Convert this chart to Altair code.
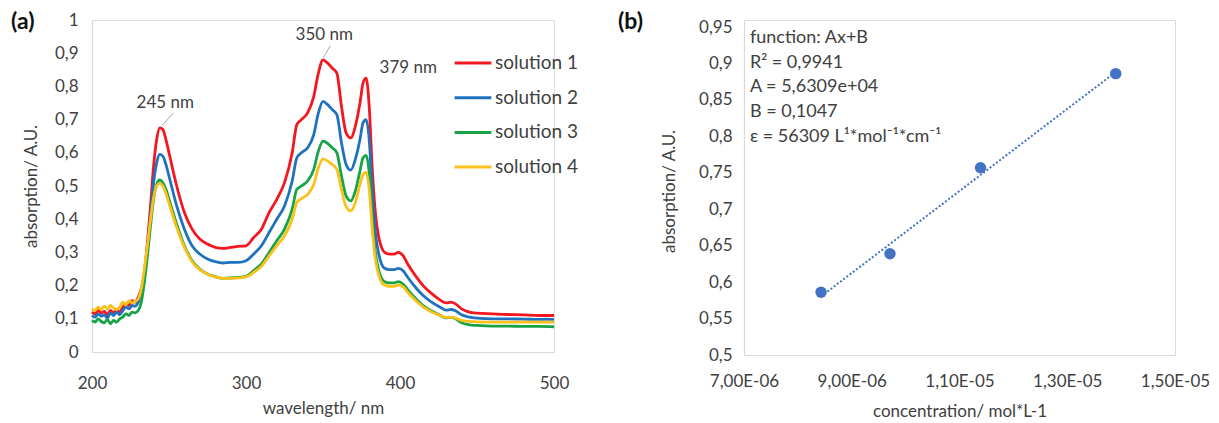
import altair as alt
import pandas as pd

FONT = "Lato"
TXT = "#404040"

# ---------------- panel (a): UV-Vis spectra ----------------
wavelength = [200, 202, 204, 206, 208, 210, 212, 214, 216, 218, 220, 222, 224, 226, 228, 230,
              232, 234, 236, 238, 240, 242, 244, 246, 248, 250, 255, 260, 265, 270, 275, 280,
              285, 290, 295, 300, 305, 310, 315, 320, 325, 330, 333, 336, 340, 344, 347, 350,
              353, 356, 359, 362, 365, 368, 371, 374, 376, 378, 380, 382, 384, 386, 388, 390,
              393, 396, 399, 402, 405, 410, 415, 420, 425, 430, 433, 436, 440, 445, 450, 460,
              470, 480, 490, 500]

solution1 = [0.120, 0.115, 0.125, 0.118, 0.122, 0.112, 0.125, 0.118, 0.128, 0.120, 0.135, 0.145, 0.140, 0.155, 0.150, 0.165,
             0.190, 0.240, 0.330, 0.440, 0.560, 0.640, 0.675, 0.670, 0.640, 0.600, 0.500, 0.420, 0.370, 0.340, 0.325, 0.315,
             0.312, 0.315, 0.318, 0.320, 0.345, 0.370, 0.420, 0.460, 0.510, 0.600, 0.685, 0.700, 0.720, 0.770, 0.840, 0.880,
             0.870, 0.855, 0.840, 0.740, 0.660, 0.645, 0.680, 0.750, 0.810, 0.825, 0.740, 0.550, 0.420, 0.350, 0.315, 0.300,
             0.295, 0.295, 0.300, 0.290, 0.265, 0.230, 0.200, 0.178, 0.160, 0.148, 0.150, 0.145, 0.130, 0.120, 0.117, 0.115,
             0.113, 0.112, 0.110, 0.110]

solution2 = [0.110, 0.105, 0.115, 0.108, 0.112, 0.102, 0.118, 0.110, 0.120, 0.112, 0.125, 0.135, 0.130, 0.140, 0.138, 0.150,
             0.180, 0.230, 0.310, 0.410, 0.510, 0.570, 0.595, 0.590, 0.565, 0.530, 0.440, 0.370, 0.320, 0.295, 0.280, 0.272,
             0.268, 0.270, 0.270, 0.275, 0.295, 0.320, 0.360, 0.400, 0.440, 0.515, 0.585, 0.600, 0.615, 0.655, 0.720, 0.755,
             0.745, 0.730, 0.715, 0.630, 0.565, 0.548, 0.580, 0.640, 0.690, 0.700, 0.640, 0.480, 0.360, 0.300, 0.265, 0.252,
             0.248, 0.248, 0.252, 0.245, 0.225, 0.195, 0.170, 0.152, 0.138, 0.126, 0.128, 0.124, 0.112, 0.105, 0.102, 0.100,
             0.100, 0.099, 0.098, 0.098]

solution3 = [0.095, 0.090, 0.100, 0.092, 0.088, 0.098, 0.085, 0.095, 0.090, 0.100, 0.105, 0.115, 0.110, 0.120, 0.118, 0.125,
             0.150, 0.210, 0.290, 0.380, 0.460, 0.505, 0.518, 0.510, 0.490, 0.460, 0.385, 0.320, 0.275, 0.250, 0.235, 0.227,
             0.222, 0.223, 0.225, 0.228, 0.245, 0.265, 0.300, 0.335, 0.370, 0.430, 0.490, 0.500, 0.515, 0.550, 0.605, 0.635,
             0.628, 0.615, 0.600, 0.530, 0.470, 0.455, 0.485, 0.545, 0.585, 0.592, 0.540, 0.400, 0.300, 0.250, 0.222, 0.212,
             0.208, 0.208, 0.212, 0.205, 0.188, 0.162, 0.140, 0.125, 0.113, 0.103, 0.104, 0.100, 0.088, 0.082, 0.080, 0.078,
             0.078, 0.077, 0.077, 0.076]

solution4 = [0.130, 0.125, 0.135, 0.128, 0.138, 0.130, 0.140, 0.132, 0.128, 0.135, 0.150, 0.142, 0.155, 0.148, 0.152, 0.160,
             0.190, 0.250, 0.320, 0.400, 0.465, 0.500, 0.508, 0.500, 0.478, 0.448, 0.375, 0.315, 0.272, 0.248, 0.234, 0.226,
             0.222, 0.222, 0.223, 0.226, 0.240, 0.258, 0.290, 0.320, 0.350, 0.400, 0.450, 0.462, 0.475, 0.505, 0.555, 0.582,
             0.575, 0.565, 0.550, 0.490, 0.438, 0.425, 0.450, 0.505, 0.535, 0.542, 0.490, 0.370, 0.280, 0.235, 0.210, 0.202,
             0.198, 0.198, 0.202, 0.196, 0.180, 0.156, 0.136, 0.122, 0.112, 0.104, 0.105, 0.102, 0.095, 0.092, 0.091, 0.090,
             0.090, 0.090, 0.090, 0.090]

series_names = ["solution 1", "solution 2", "solution 3", "solution 4"]
series_colors = ["#f5171f", "#1f72c0", "#17a346", "#fbc11b"]

wl_ticks = [200, 300, 400, 500]
abs_ticks = [0, 0.1, 0.2, 0.3, 0.4, 0.5, 0.6, 0.7, 0.8, 0.9, 1.0]

peak_labels = ["245 nm", "350 nm", "379 nm"]
peak_label_x = [247.6, 350.8, 405.4]
peak_label_y = [0.75, 0.955, 0.855]

leader_x = [245.7, 350.2]
leader_y = [0.684, 0.886]
leader_x2 = [252.8, 354.7]
leader_y2 = [0.720, 0.922]

# ---------------- panel (b): calibration ----------------
concentration = [8.43e-6, 9.71e-6, 1.139e-5, 1.390e-5]
absorption_b = [0.586, 0.639, 0.757, 0.886]
conc_ticks = [7e-6, 9e-6, 1.1e-5, 1.3e-5, 1.5e-5]
abs_b_ticks = [0.5, 0.55, 0.6, 0.65, 0.7, 0.75, 0.8, 0.85, 0.9, 0.95]

fit_lines = ["function: Ax+B", "R² = 0,9941", "A = 5,6309e+04", "B = 0,1047",
             "ε = 56309 L¹*mol⁻¹*cm⁻¹"]
fit_line_y = [0.935, 0.901, 0.867, 0.833, 0.799]
fit_line_x = 7.11e-6

# ---------------- build tables ----------------
rows = []
for name, vals in zip(series_names, [solution1, solution2, solution3, solution4]):
    for w, v in zip(wavelength, vals):
        rows.append({"wavelength": w, "absorption": v, "series": name})
spec_df = pd.DataFrame(rows)
peaks_df = pd.DataFrame({"label": peak_labels, "wavelength": peak_label_x, "absorption": peak_label_y})
leader_df = pd.DataFrame({"wavelength": leader_x, "absorption": leader_y,
                          "wavelength2": leader_x2, "absorption2": leader_y2})
cal_df = pd.DataFrame({"conc": concentration, "absb": absorption_b})
fit_df = pd.DataFrame({"t": fit_lines, "absb": fit_line_y, "conc": [fit_line_x] * len(fit_lines)})

comma = "replace(format(datum.value, '~g'), '.', ',')"
sci = ("replace(datum.value < 9.99e-6 ? format(datum.value * 1e6, '.2f') + 'E-06' : "
       "format(datum.value * 1e5, '.2f') + 'E-05', '.', ',')")

axis_common = dict(domainColor="#d9d9d9", domainWidth=1.2, ticks=False, grid=False,
                   labelFlush=False, labelOverlap=False, labelBound=False,
                   labelFont=FONT, labelFontSize=17, labelColor=TXT,
                   titleFont=FONT, titleFontSize=17, titleColor=TXT, titleFontWeight="normal")

xa = alt.X("wavelength:Q", scale=alt.Scale(domain=[200, 500], nice=False),
           axis=alt.Axis(values=wl_ticks, title="wavelength/ nm", labelPadding=23, titlePadding=9,
                         **axis_common))
ya = alt.Y("absorption:Q", scale=alt.Scale(domain=[0, 1], nice=False),
           axis=alt.Axis(values=abs_ticks, labelExpr=comma, title="absorption/ A.U.",
                         labelPadding=14, titlePadding=14, **axis_common))

lines = alt.Chart(spec_df).mark_line(strokeWidth=2.8, interpolate="monotone").encode(
    x=xa, y=ya,
    color=alt.Color("series:N", scale=alt.Scale(domain=series_names, range=series_colors),
                    legend=alt.Legend(title=None, orient="none", legendX=361, legendY=23,
                                      symbolType="stroke", symbolSize=1350, symbolStrokeWidth=3,
                                      labelFont=FONT, labelFontSize=19, labelColor=TXT,
                                      labelOffset=2, rowPadding=4.7)),
)

leaders = alt.Chart(leader_df).mark_rule(color="#a6a6a6", strokeWidth=1).encode(
    x=xa, y=ya, x2="wavelength2:Q", y2="absorption2:Q")
peak_text = alt.Chart(peaks_df).mark_text(font=FONT, fontSize=17, color=TXT).encode(
    x=xa, y=ya, text="label:N")
tag_a = alt.Chart(pd.DataFrame({"t": ["(a)"]})).mark_text(
    font=FONT, fontSize=23, fontWeight="bold", color="#111111", align="left").encode(
    x=alt.value(-81), y=alt.value(2), text="t:N")

left = alt.layer(lines, leaders, peak_text, tag_a).properties(width=462, height=332)

RIGHT_H = 335
xb = alt.X("conc:Q", scale=alt.Scale(domain=[7e-6, 1.5e-5], nice=False),
           axis=alt.Axis(values=conc_ticks, labelExpr=sci, title="concentration/ mol*L-1",
                         labelPadding=18, titlePadding=14, **axis_common))
yb = alt.Y("absb:Q", scale=alt.Scale(domain=[0.5, 0.95], nice=False, range=[RIGHT_H, 7]),
           axis=alt.Axis(values=abs_b_ticks, labelExpr=comma, title="absorption/ A.U.",
                         labelPadding=12, titlePadding=20, **axis_common))

trend = alt.Chart(cal_df).transform_regression("conc", "absb").mark_line(
    color="#4472c4", strokeWidth=2, strokeDash=[2, 2]).encode(x=xb, y=yb)
pts = alt.Chart(cal_df).mark_circle(size=130, color="#4472c4", opacity=1).encode(x=xb, y=yb)
fit_text = alt.Chart(fit_df).mark_text(font=FONT, fontSize=18, color=TXT, align="left").encode(
    x=xb, y=yb, text="t:N")
tag_b = alt.Chart(pd.DataFrame({"t": ["(b)"]})).mark_text(
    font=FONT, fontSize=23, fontWeight="bold", color="#111111", align="left").encode(
    x=alt.value(-126), y=alt.value(2), text="t:N")

right = alt.layer(trend, pts, fit_text, tag_b).properties(width=431, height=RIGHT_H)

chart = alt.hconcat(left, right, spacing=47).properties(
    padding={"left": 10, "top": 10, "right": 5, "bottom": 5}
).configure_view(stroke=None).configure(background="white")

chart.save("out.html", embed_options={"renderer": "svg", "actions": False})
